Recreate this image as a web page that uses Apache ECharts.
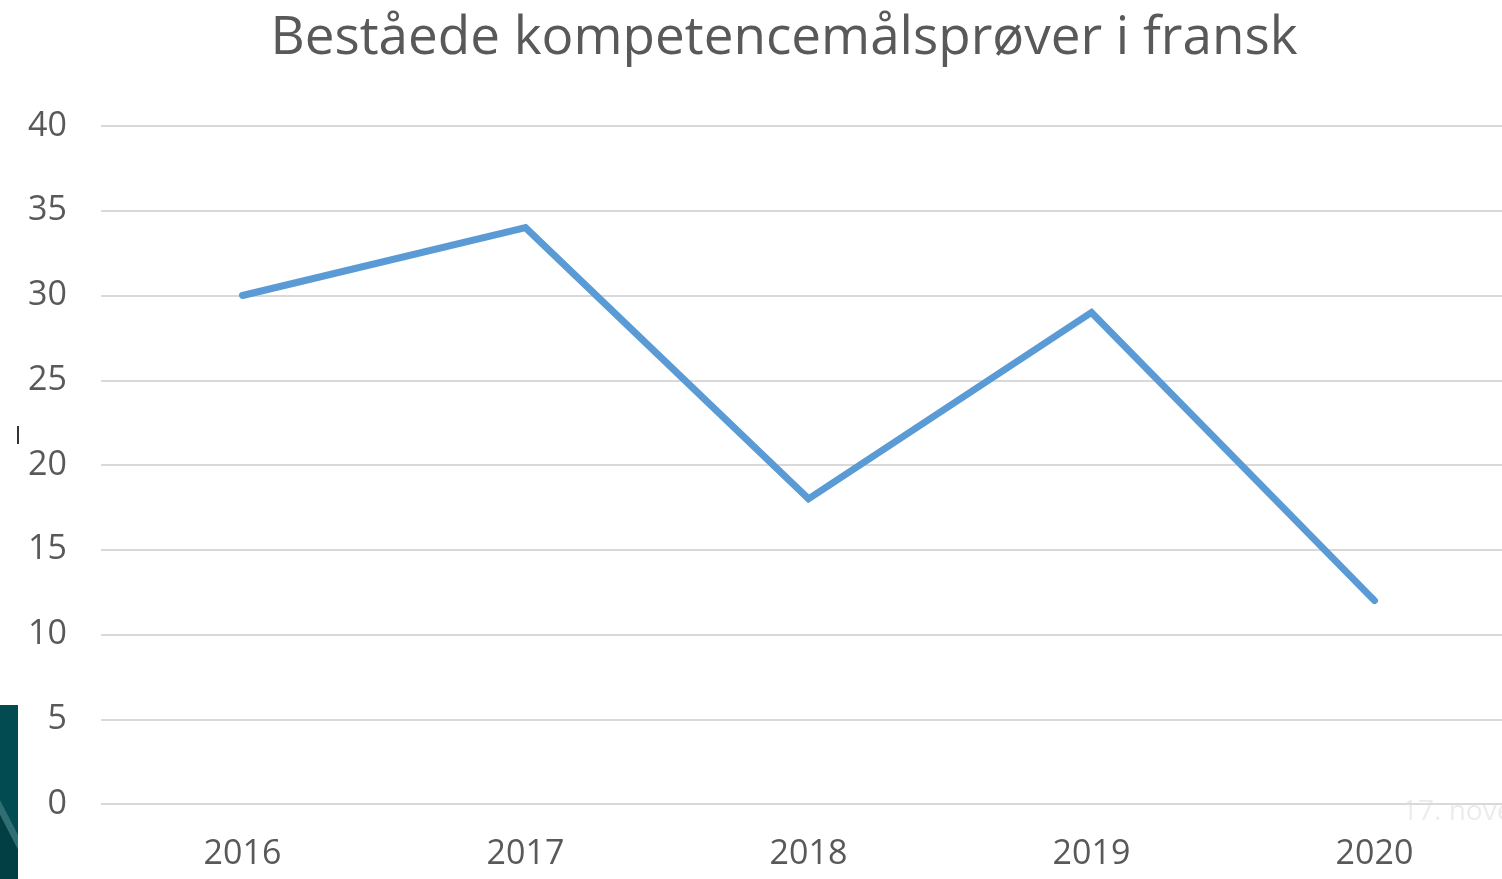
<!DOCTYPE html>
<html>
<head>
<meta charset="utf-8">
<script src="https://cdn.jsdelivr.net/npm/echarts@6/dist/echarts.min.js"></script>
<style>
  html, body { margin: 0; padding: 0; background: #fff; overflow: hidden; }
  /* a bit wider than the window: the last category band runs past the right edge */
  #chart { width: 1516px; height: 879px; }
</style>
</head>
<body>
<div id="chart"></div>
<script>
// data
const years = ["2016", "2017", "2018", "2019", "2020"];
const passed = [30, 34, 18, 29, 12];
const yTicks = { min: 0, max: 40, step: 5 };

const chart = echarts.init(document.getElementById("chart"));

const option = {
  backgroundColor: "#ffffff",
  animation: false,
  title: {
    text: "Beståede kompetencemålsprøver i fransk",
    left: 779,
    top: 7,
    textAlign: "center",
    textStyle: {
      fontFamily: "Open Sans",
      fontSize: 53,
      fontWeight: "normal",
      color: "#595959",
    },
  },
  grid: {
    left: 101,
    right: 0,
    top: 126,
    bottom: 75,
  },
  xAxis: {
    type: "category",
    data: years,
    boundaryGap: true,
    axisLine: { show: false },
    axisTick: { show: false },
    axisLabel: {
      fontFamily: "Open Sans",
      fontSize: 34,
      color: "#595959",
      margin: 33,
    },
  },
  yAxis: {
    type: "value",
    min: yTicks.min,
    max: yTicks.max,
    interval: yTicks.step,
    axisLine: { show: false },
    axisTick: { show: false },
    axisLabel: {
      fontFamily: "Open Sans",
      fontSize: 34,
      color: "#595959",
      margin: 34,
    },
    splitLine: {
      lineStyle: { color: "#d9d9d9", width: 2 },
    },
  },
  series: [
    {
      name: "Beståede",
      type: "line",
      data: passed,
      symbol: "none",
      lineStyle: { color: "#5b9bd5", width: 7, cap: "round", join: "miter" },
    },
  ],
  graphic: [
    // slide decoration at the left edge
    {
      type: "rect",
      shape: { x: 0, y: 705, width: 18, height: 174 },
      style: { fill: "#024b51" },
      silent: true,
    },
    {
      type: "polygon",
      shape: { points: [[0, 800], [18, 835], [18, 850], [0, 815]] },
      style: { fill: "#2f6e72" },
      silent: true,
    },
    {
      type: "polygon",
      shape: { points: [[0, 815], [18, 850], [18, 879], [0, 879]] },
      style: { fill: "#013f44" },
      silent: true,
    },
    {
      type: "rect",
      shape: { x: 17, y: 426, width: 2, height: 18 },
      style: { fill: "#333333" },
      silent: true,
    },
    // faint date text at lower right
    {
      type: "text",
      left: 1402,
      top: 798,
      style: {
        text: "17. nove",
        fontFamily: "Open Sans",
        fontSize: 28,
        fill: "#ececec",
      },
      silent: true,
    },
  ],
};

chart.setOption(option);
</script>
</body>
</html>
